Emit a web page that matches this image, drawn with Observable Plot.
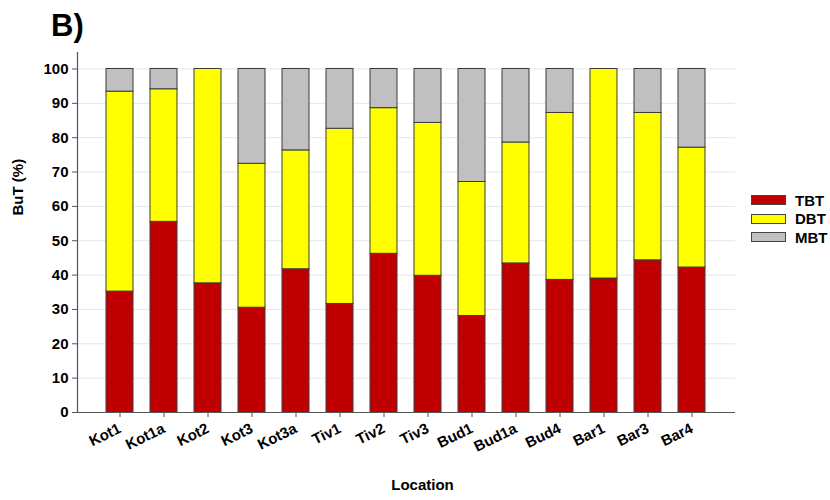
<!DOCTYPE html>
<html>
<head>
<meta charset="utf-8">
<script src="https://cdn.jsdelivr.net/npm/d3@7"></script>
<script src="https://cdn.jsdelivr.net/npm/@observablehq/plot@0.6"></script>
<style>
  html, body { margin: 0; padding: 0; background: #fff; }
  #wrap { position: relative; width: 830px; height: 500px; font-family: "Liberation Sans", Arial, sans-serif; }
  #wrap svg { position: absolute; left: 0; top: 0; }
  #title { position: absolute; left: 51px; top: 8px; font-size: 31px; font-weight: bold; color: #000; }
  #legend { position: absolute; left: 751px; top: 191px; font-size: 15px; font-weight: bold; }
  .row { display: flex; align-items: center; height: 18.5px; }
  .sw { width: 35px; height: 10px; border: 1px solid #444; margin-right: 9px; box-sizing: border-box; }
</style>
</head>
<body>
<div id="wrap">
  <div id="title">B)</div>
  <div id="legend"></div>
</div>
<script>
const locations = ["Kot1","Kot1a","Kot2","Kot3","Kot3a","Tiv1","Tiv2","Tiv3","Bud1","Bud1a","Bud4","Bar1","Bar3","Bar4"];
const series = ["TBT","DBT","MBT"];
const colors = ["#c00000","#ffff00","#c0c0c0"];
const tbt = [35.2, 55.5, 37.6, 30.5, 41.7, 31.6, 46.2, 39.8, 28.1, 43.4, 38.6, 39.0, 44.3, 42.2];
const dbt = [58.2, 38.6, 62.4, 41.9, 34.6, 51.0, 42.4, 44.5, 39.0, 35.2, 48.6, 61.0, 42.9, 34.9];
const mbt = [6.6, 5.9, 0, 27.6, 23.7, 17.4, 11.4, 15.7, 32.9, 21.4, 12.8, 0, 12.8, 22.9];
const yTicks = [0,10,20,30,40,50,60,70,80,90,100];

const values = [tbt, dbt, mbt];
const data = [];
locations.forEach((loc, i) => {
  series.forEach((s, k) => {
    if (values[k][i] > 0) data.push({location: loc, component: s, value: values[k][i]});
  });
});

const font = "Liberation Sans, Arial, sans-serif";
const plot = Plot.plot({
  width: 830,
  height: 500,
  marginLeft: 77,
  marginRight: 95,
  marginTop: 52,
  marginBottom: 88,
  style: {fontFamily: font, fontSize: "15px", fontWeight: "bold", color: "#000", background: "transparent"},
  x: {type: "band", domain: locations, paddingInner: 0.386, paddingOuter: 0.668, label: null},
  y: {domain: [0, 104.8], label: null},
  color: {domain: series, range: colors},
  marks: [
    Plot.gridY(yTicks, {stroke: "#e6e6e6", strokeOpacity: 1}),
    Plot.barY(data, {x: "location", y: "value", fill: "component", stroke: "#3a3a3a", strokeWidth: 1, order: series}),
    Plot.ruleY([0], {stroke: "#555", strokeWidth: 1.2}),
    Plot.frame({anchor: "left", stroke: "#555", strokeWidth: 1.2}),
    Plot.axisY({ticks: yTicks, tickSize: 5, tickPadding: 4, stroke: "#555", label: null, fontSize: 15, fontWeight: "bold"}),
    Plot.axisX({tickSize: 5, tickRotate: -26, tickPadding: 10, stroke: "#555", label: null, fontSize: 15, fontWeight: "bold"}),
    Plot.text(["BuT (%)"], {frameAnchor: "left", dx: -59, dy: -17, rotate: -90, fontSize: 15, fontWeight: "bold", fill: "#000"}),
    Plot.text(["Location"], {frameAnchor: "bottom", dx: 16, dy: 77, fontSize: 15, fontWeight: "bold", fill: "#000"})
  ]
});
document.getElementById("wrap").appendChild(plot);

const legend = document.getElementById("legend");
series.forEach((s, k) => {
  const row = document.createElement("div");
  row.className = "row";
  const sw = document.createElement("div");
  sw.className = "sw";
  sw.style.background = colors[k];
  const t = document.createElement("span");
  t.textContent = s;
  row.appendChild(sw);
  row.appendChild(t);
  legend.appendChild(row);
});
</script>
</body>
</html>
